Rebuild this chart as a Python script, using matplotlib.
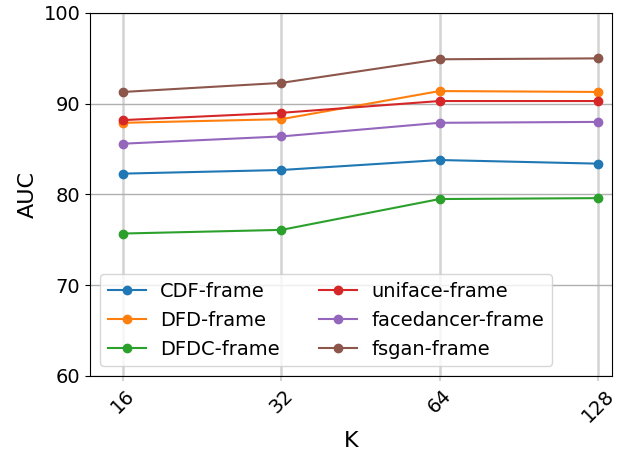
import matplotlib
matplotlib.use("Agg")
import matplotlib.pyplot as plt
import numpy as np

K = ["16", "32", "64", "128"]
cdf = [82.3, 82.7, 83.8, 83.4]
dfd = [87.9, 88.3, 91.4, 91.3]
dfdc = [75.7, 76.1, 79.5, 79.6]
uniface = [88.2, 89.0, 90.3, 90.3]
facedancer = [85.6, 86.4, 87.9, 88.0]
fsgan = [91.3, 92.3, 94.9, 95.0]

series = [("CDF-frame", cdf), ("DFD-frame", dfd), ("DFDC-frame", dfdc),
          ("uniface-frame", uniface), ("facedancer-frame", facedancer),
          ("fsgan-frame", fsgan)]

fig = plt.figure(figsize=(6.28, 4.51), dpi=100)
ax = fig.add_axes([90/628, 1-376/451, (612-90)/628, (376-13)/451])
x = np.arange(len(K))
for name, vals in series:
    ax.plot(x, vals, marker="o", label=name)

ax.set_xticks(x)
ax.set_xticklabels(K, rotation=45, fontsize=14)
ax.tick_params(axis="x", color="lightgray", width=1.5)
ax.tick_params(axis="y", labelsize=14)
ax.set_xlim(-0.21, 3.09)
ax.set_ylim(60, 100)
ax.set_yticks([60, 70, 80, 90, 100])
ax.set_xlabel("K", fontsize=16)
ax.set_ylabel("AUC", fontsize=16)
ax.grid(True, axis="y", color="#b0b0b0", lw=1)
ax.grid(True, axis="x", color="lightgray", lw=1.8)
ax.legend(ncol=2, loc="lower left", fontsize=14, handlelength=2.0,
          handletextpad=0.7, columnspacing=2.0)

fig.savefig("out.png", dpi=100)
